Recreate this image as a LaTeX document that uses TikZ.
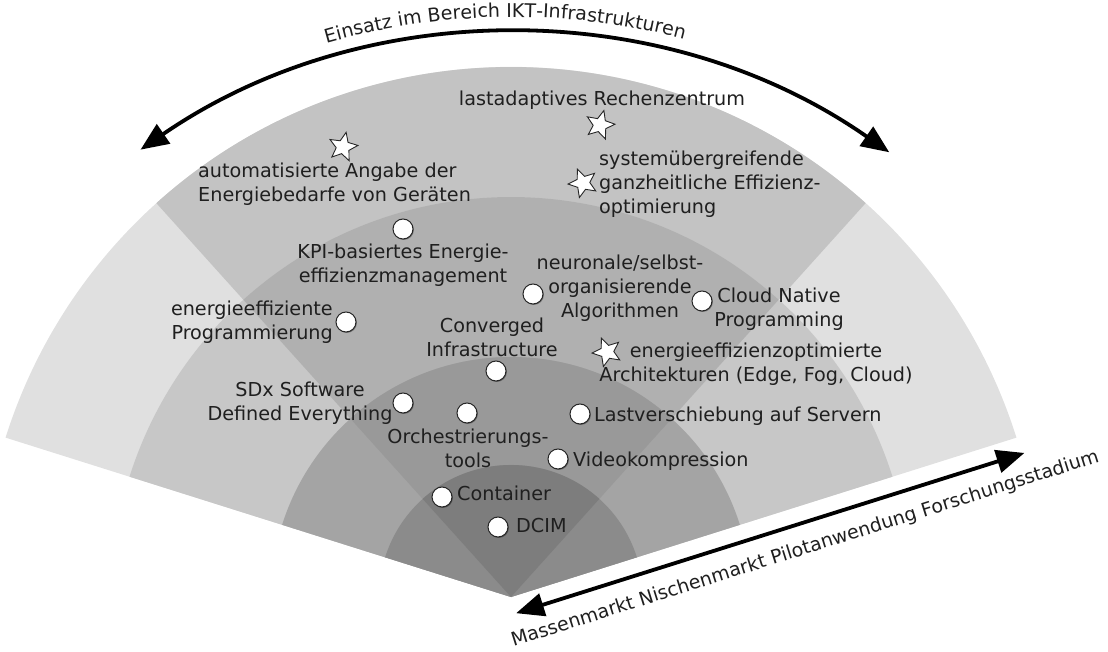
\documentclass[tikz,border=0pt]{standalone}
\usepackage{fontspec}
\setmainfont{DejaVu Sans}
\usetikzlibrary{shapes.geometric,arrows.meta,decorations.text,calc,shadows}
\definecolor{ringDside}{gray}{0.878}
\definecolor{ringDmid}{gray}{0.765}
\definecolor{ringCside}{gray}{0.78}
\definecolor{ringCmid}{gray}{0.69}
\definecolor{ringBside}{gray}{0.645}
\definecolor{ringBmid}{gray}{0.60}
\definecolor{ringAside}{gray}{0.545}
\definecolor{ringAmid}{gray}{0.49}
\begin{document}
\begin{tikzpicture}[x=1pt,y=1pt,
  lbl/.style={font=\fontsize{19.2}{24}\selectfont, inner sep=0pt, text=black!88},
  dot/.style={circle, draw=black!85, fill=white, line width=1pt, minimum size=20pt, inner sep=0pt,
    drop shadow={shadow xshift=0.9pt, shadow yshift=-0.9pt, opacity=0.35, fill=black}},
  starmark/.style={star, star points=5, star point ratio=2.2, draw=black!85, fill=white, line width=0.9pt, minimum size=30pt, inner sep=0pt},
  bigarrow/.style={line width=3.8pt, {Triangle[length=28pt,width=23pt]}-{Triangle[length=28pt,width=23pt]}},
]
\useasboundingbox (0,0) rectangle (1108,651);
\coordinate (C) at (511,54);
% fan rings
\fill[ringDside] (C) -- ++(17.5:530) arc[start angle=17.5, end angle=162.5, radius=530] -- cycle;
\fill[ringDmid] (C) -- ++(48:530) arc[start angle=48, end angle=132, radius=530] -- cycle;
\fill[ringCside] (C) -- ++(17.5:400) arc[start angle=17.5, end angle=162.5, radius=400] -- cycle;
\fill[ringCmid] (C) -- ++(48:400) arc[start angle=48, end angle=132, radius=400] -- cycle;
\fill[ringBside] (C) -- ++(17.5:240) arc[start angle=17.5, end angle=162.5, radius=240] -- cycle;
\fill[ringBmid] (C) -- ++(48:240) arc[start angle=48, end angle=132, radius=240] -- cycle;
\fill[ringAside] (C) -- ++(17.5:132) arc[start angle=17.5, end angle=162.5, radius=132] -- cycle;
\fill[ringAmid] (C) -- ++(48:132) arc[start angle=48, end angle=132, radius=132] -- cycle;

% top arrow
\coordinate (O) at (513,-40.7);
\coordinate (arcL) at ($(O)+(124.5:657.7)$);
\coordinate (arcR) at ($(O)+(55.1:657.7)$);
\draw[bigarrow] (arcL) arc[start angle=124.5, end angle=55.1, radius=657.7];
\path[decorate, decoration={text along path, text align=center,
  text={|\fontsize{19}{24}\selectfont\color{black!88}|Einsatz im Bereich IKT-Infrastrukturen}}]
  ($(O)+(125.7:674.7)$) arc[start angle=125.7, end angle=55.7, radius=674.7];

% bottom arrow
\coordinate (bL) at ($(C)+(-72.5:17)$);
\coordinate (bR) at ($(bL)+(17.5:533)$);
\draw[bigarrow] (bL) -- (bR);
\node[lbl, font=\fontsize{19}{24}\selectfont, rotate=17.5, anchor=base] (btxt) at ($(C)+(-72.5:48)+(17.5:295)$) {Massenmarkt Nischenmarkt Pilotanwendung Forschungsstadium};

% markers
\node[starmark, rotate=-15] (s1) at (600,526) {};
\node[starmark, rotate=-12] (s2) at (343,504) {};
\node[starmark, rotate=22] (s3) at (583,468) {};
\node[starmark, rotate=22] (s4) at (607,299) {};
\node[dot] (d1) at (403,422) {};
\node[dot] (d2) at (346,329) {};
\node[dot] (d3) at (533,357) {};
\node[dot] (d4) at (702,350) {};
\node[dot] (d5) at (496,280) {};
\node[dot] (d6) at (403,248) {};
\node[dot] (d7) at (467,238) {};
\node[dot] (d8) at (580,237) {};
\node[dot] (d9) at (558,192) {};
\node[dot] (d10) at (442,154) {};
\node[dot] (d11) at (498,124) {};

% labels
\node[lbl, anchor=base] (t1) at (602,545) {lastadaptives Rechenzentrum};
\node[lbl, anchor=north west, align=left] (t2) at (198,488.6) {automatisierte Angabe der\\Energiebedarfe von Geräten};
\node[lbl, anchor=north west, align=left] (t3) at (599,500.6) {systemübergreifende\\ganzheitliche Effizienz-\\optimierung};
\node[lbl, anchor=north, align=center] (t4) at (403,407.6) {KPI-basiertes Energie-\\effizienzmanagement};
\node[lbl, anchor=north east, align=right] (t5) at (333,350.6) {energieeffiziente\\Programmierung};
\node[lbl, anchor=north, align=center] (t6) at (620,396.6) {neuronale/selbst-\\organisierende\\Algorithmen};
\node[lbl, anchor=north, align=center] (t7) at (779,363.6) {Cloud Native\\Programming};
\node[lbl, anchor=north, align=center] (t8) at (492,333.6) {Converged\\Infrastructure};
\node[lbl, anchor=north, align=center] (t9) at (756,308.6) {energieeffizienzoptimierte\\Architekturen (Edge, Fog, Cloud)};
\node[lbl, anchor=north, align=center] (t10) at (300,269.6) {SDx Software\\Defined Everything};
\node[lbl, anchor=north, align=center] (t11) at (468,222.6) {Orchestrierungs-\\tools};
\node[lbl, anchor=base west] (t12) at (594,229) {Lastverschiebung auf Servern};
\node[lbl, anchor=base west] (t13) at (573,184) {Videokompression};
\node[lbl, anchor=base west] (t14) at (457,150) {Container};
\node[lbl, anchor=base west] (t15) at (516,119) {DCIM};
\end{tikzpicture}
\end{document}
